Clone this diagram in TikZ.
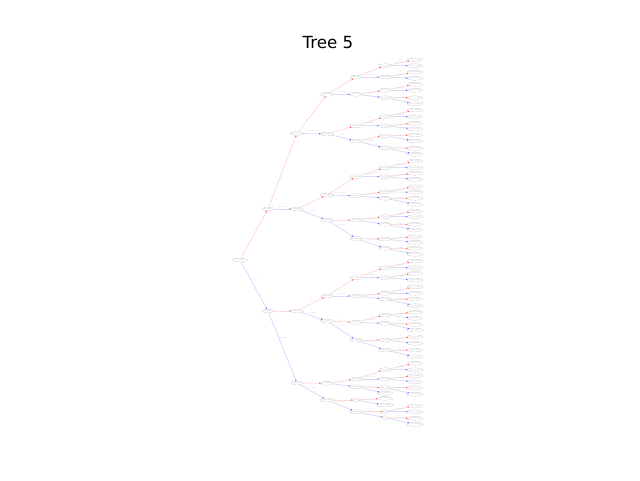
\documentclass[tikz,border=0pt]{standalone}
\usepackage{fontspec}
\setmainfont{Liberation Serif}
\newfontfamily\titlefont{DejaVu Sans}
\usetikzlibrary{arrows.meta,shapes.geometric,calc}
\definecolor{nolabc}{RGB}{215,190,190}
\definecolor{yeslabc}{RGB}{190,190,230}
\definecolor{noedge}{RGB}{255,218,218}
\definecolor{yesedge}{RGB}{218,218,255}
\tikzset{
  gnode/.style={ellipse, draw=black!28, line width=0.18pt, inner xsep=0.4pt, inner ysep=0.3pt,
    minimum height=3.8pt, minimum width=6pt, font=\fontsize{1.55}{1.7}\selectfont, text=black!32},
  inode/.style={gnode},
  leafnode/.style={gnode},
  noE/.style={draw=noedge, line width=0.8pt, -{Triangle[length=1.3pt,width=1.3pt,color=red!75]}},
  yesE/.style={draw=yesedge, line width=0.8pt, -{Triangle[length=1.3pt,width=1.3pt,color=blue!70]}},
  elab/.style={font=\fontsize{1.55}{1.7}\selectfont, inner sep=0pt},
  nolab/.style={elab, text=nolabc},
  yeslab/.style={elab, text=yeslabc}
}
\newcommand\mkI[4]{\node[inode] (#1) at (#2,#3) {#4};}
\newcommand\mkL[4]{\node[leafnode] (#1) at (#2,#3) {leaf=#4};}
\newcommand\mkN[2]{\draw[noE] (#1) -- (#2);
  \path let \p1=(#1.center), \p2=(#2.center) in
    node[nolab] (l#2) at ({(\x1+\x2)/2},{(\y1+\y2)/2+2.2pt+0.09*abs(\y1-\y2)}) {no};}
\newcommand\mkY[2]{\draw[yesE] (#1) -- (#2);
  \path let \p1=(#1.center), \p2=(#2.center) in
    node[yeslab] (l#2) at ({(\x1+\x2)/2},{(\y1+\y2)/2+2.2pt+0.09*abs(\y1-\y2)}) {yes, missing};}
\newcommand\mkQ[7]{\mkI{#1}{385}{#2}{#3}\mkL{#1a}{415}{#4}{#5}\mkL{#1b}{415}{#6}{#7}\mkN{#1}{#1a}\mkY{#1}{#1b}}
\begin{document}
\begin{tikzpicture}[x=1pt,y=-1pt]
\fill[white] (0,0) rectangle (640,480);
\useasboundingbox (0,0) rectangle (640,480);
\node[font=\titlefont\fontsize{16.7}{20}\selectfont, inner sep=0pt] (title) at (328,43) {Tree 5};
% depth 0-3
\mkI{r}{240}{260}{f14<-0.0218967}
\mkI{r0}{268}{209}{f3<0.628047}
\mkI{r1}{268}{311}{f8<0.142975}
\mkI{r00}{297}{133.5}{f11<0.503218}
\mkI{r01}{297}{209}{f6<0.287641}
\mkI{r10}{297}{311}{f2<0.815304}
\mkI{r11}{297}{383}{f9<0.064837}
\mkI{r000}{327}{94.3}{f5<0.412760}
\mkI{r001}{327}{134}{f0<0.739182}
\mkI{r010}{327}{195}{f12<0.258406}
\mkI{r011}{327}{220}{f7<0.591233}
\mkI{r100}{327}{296}{f4<0.330917}
\mkI{r101}{327}{321}{f13<0.872045}
\mkI{r110}{327}{383.3}{f1<0.196528}
\mkI{r111}{327}{400}{f10<0.457390}
% depth 4
\mkI{r0000}{356}{77}{f2<0.351867}
\mkI{r0001}{356}{94.3}{f9<0.704512}
\mkI{r0010}{356}{125.7}{f4<0.118240}
\mkI{r0011}{356}{141}{f6<0.926371}
\mkI{r0100}{356}{176.7}{f1<0.442085}
\mkI{r0101}{356}{195.7}{f13<0.38716}
\mkI{r0110}{356}{220}{f5<0.661904}
\mkI{r0111}{356}{238.5}{f0<0.205573}
\mkI{r1000}{356}{277.7}{f12<0.54093}
\mkI{r1001}{356}{296}{f7<0.073648}
\mkI{r1010}{356}{322.3}{f3<0.819227}
\mkI{r1011}{356}{340}{f11<0.29554}
\mkI{r1100}{356}{379}{f8<0.613478}
\mkI{r1101}{356}{386.7}{f14<0.47032}
\mkI{r1110}{356}{400}{f11<1}
\mkI{r1111}{356}{411.7}{f6<0.158832}
% depth 5 with leaves
\mkQ{r00000}{65.7}{f10<0.293104}{59.7}{0.0218514}{65.7}{-0.0137462}
\mkQ{r00001}{77}{f4<0.580317}{72.3}{0.00826931}{78.3}{-0.0251093}
\mkQ{r00010}{90.3}{f1<0.771452}{84.3}{-0.0064718}{90.3}{0.0173845}
\mkQ{r00011}{97.7}{f8<0.236096}{97.7}{0.0312607}{103.7}{-0.0095281}
\mkQ{r00100}{116.7}{f13<0.64218}{110}{-0.0182294}{116.7}{0.0047129}
\mkQ{r00101}{125.7}{f5<0.096143}{123.3}{0.0228831}{129}{-0.0301547}
\mkQ{r00110}{135.7}{f2<0.858021}{135}{0.0116302}{141}{-0.0043865}
\mkQ{r00111}{147.7}{f9<0.327719}{148.3}{-0.0209156}{154.3}{0.0152478}
\mkQ{r01000}{167.7}{f0<0.461385}{161}{0.0267392}{167.7}{-0.0118734}
\mkQ{r01001}{176.7}{f7<0.705894}{173.3}{-0.0036291}{179.3}{0.0194027}
\mkQ{r01010}{191.7}{f3<0.183562}{186.7}{0.0085916}{192.3}{-0.0276408}
\mkQ{r01011}{198.3}{f12<0.59207}{198.3}{-0.0142583}{204.3}{0.0059132}
\mkQ{r01100}{216.7}{f6<0.374815}{211}{0.0241077}{216.7}{-0.0087649}
\mkQ{r01101}{224.3}{f11<0.81523}{224.3}{-0.0228316}{230}{0.0137954}
\mkQ{r01110}{239}{f4<0.263097}{236.7}{0.0068245}{242.3}{-0.0163072}
\mkQ{r01111}{248.3}{f14<0.50381}{248.3}{0.0295613}{254.3}{-0.0021748}
\mkQ{r10000}{267.7}{f1<0.649523}{261}{-0.0112906}{267.7}{0.0207385}
\mkQ{r10001}{277.7}{f8<0.127684}{273.3}{0.0041527}{280}{-0.0258619}
\mkQ{r10010}{293.3}{f5<0.734109}{286.7}{-0.0179043}{293.3}{0.0125836}
\mkQ{r10011}{299}{f10<0.41875}{299}{0.0283194}{305.7}{-0.0070512}
\mkQ{r10100}{315}{f2<0.952367}{312.3}{-0.0051873}{318.3}{0.0186249}
\mkQ{r10101}{323.3}{f13<0.20846}{324.3}{0.0103728}{330}{-0.0234061}
\mkQ{r10110}{340}{f7<0.567402}{336.7}{-0.0147395}{343.3}{0.0078261}
\mkQ{r10111}{350}{f0<0.085931}{350}{0.0252408}{356.7}{-0.0103527}
\mkQ{r11000}{369.7}{f9<0.681257}{363.3}{0.0133962}{369.7}{-0.0197814}
\mkQ{r11001}{379}{f3<0.345629}{375.7}{-0.0028457}{381.7}{0.0221603}
\mkQ{r11010}{387.7}{f12<0.79034}{387.7}{0.0057194}{394.3}{-0.0289236}
\mkL{r11011}{385}{393.3}{-0.0164829}
\mkL{r11100}{385}{398.3}{0.0192517}
\mkL{r11101}{385}{405}{-0.0079346}
\mkQ{r11110}{411.7}{f4<1}{405.7}{0.0246187}{411.7}{-0.0131052}
\mkQ{r11111}{417.7}{f9<1}{418.3}{0.0096473}{424.3}{-0.0215908}
% edges depth 0-3
\mkN{r}{r0}\mkY{r}{r1}
\mkN{r0}{r00}\mkY{r0}{r01}
\mkN{r1}{r10}\mkY{r1}{r11}
\mkN{r00}{r000}\mkY{r00}{r001}
\mkN{r01}{r010}\mkY{r01}{r011}
\mkN{r10}{r100}\mkY{r10}{r101}
\mkN{r11}{r110}\mkY{r11}{r111}
\mkN{r000}{r0000}\mkY{r000}{r0001}
\mkN{r001}{r0010}\mkY{r001}{r0011}
\mkN{r010}{r0100}\mkY{r010}{r0101}
\mkN{r011}{r0110}\mkY{r011}{r0111}
\mkN{r100}{r1000}\mkY{r100}{r1001}
\mkN{r101}{r1010}\mkY{r101}{r1011}
\mkN{r110}{r1100}\mkY{r110}{r1101}
\mkN{r111}{r1110}\mkY{r111}{r1111}
% edges depth 4-5
\mkN{r0000}{r00000}\mkY{r0000}{r00001}
\mkN{r0001}{r00010}\mkY{r0001}{r00011}
\mkN{r0010}{r00100}\mkY{r0010}{r00101}
\mkN{r0011}{r00110}\mkY{r0011}{r00111}
\mkN{r0100}{r01000}\mkY{r0100}{r01001}
\mkN{r0101}{r01010}\mkY{r0101}{r01011}
\mkN{r0110}{r01100}\mkY{r0110}{r01101}
\mkN{r0111}{r01110}\mkY{r0111}{r01111}
\mkN{r1000}{r10000}\mkY{r1000}{r10001}
\mkN{r1001}{r10010}\mkY{r1001}{r10011}
\mkN{r1010}{r10100}\mkY{r1010}{r10101}
\mkN{r1011}{r10110}\mkY{r1011}{r10111}
\mkN{r1100}{r11000}\mkY{r1100}{r11001}
\mkN{r1101}{r11010}\mkY{r1101}{r11011}
\mkN{r1110}{r11100}\mkY{r1110}{r11101}
\mkN{r1111}{r11110}\mkY{r1111}{r11111}
\end{tikzpicture}
\end{document}
